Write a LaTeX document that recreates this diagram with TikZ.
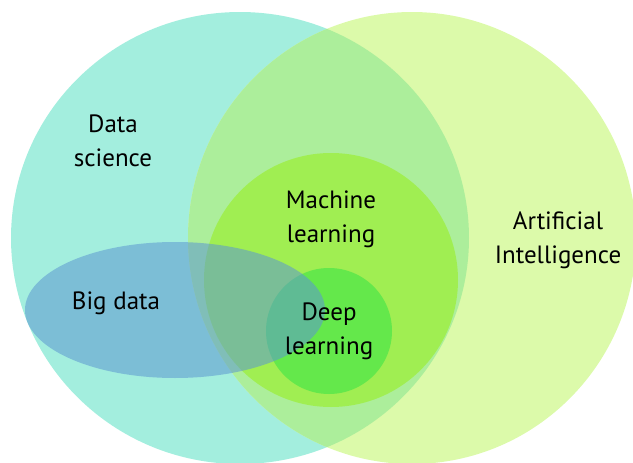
\documentclass[tikz,border=0pt]{standalone}
\usepackage{fontspec}
\setmainfont{PT Sans}
\usetikzlibrary{positioning}
\definecolor{dscol}{RGB}{163,238,222}
\definecolor{aicol}{RGB}{220,250,170}
\definecolor{ovcol}{RGB}{172,238,155}
\definecolor{mlcol}{RGB}{160,238,82}
\definecolor{dlcol}{RGB}{100,232,75}
\definecolor{bdcol}{RGB}{92,151,209}

\begin{document}
\begin{tikzpicture}[x=1pt, y=-1pt,
  lbl/.style={align=center, font=\fontsize{25}{34}\selectfont, text=black}]
  \useasboundingbox (0,0) rectangle (633,463);
  \fill[dscol] (240,238) ellipse [x radius=229, y radius=226];
  \fill[aicol] (412,238) ellipse [x radius=224, y radius=226];
  \begin{scope}
    \clip (240,238) ellipse [x radius=229, y radius=226];
    \fill[ovcol] (412,238) ellipse [x radius=224, y radius=226];
  \end{scope}
  \fill[mlcol] (331,280) circle [radius=127];
  \fill[dlcol] (329,331) circle [radius=63];
  \fill[bdcol, fill opacity=.55] (175,310) ellipse [x radius=150, y radius=68];
  % labels
  \node[lbl] (ds) at (113,141) {Data\\science};
  \node[lbl] (ml) at (331,219) {Machine\\learning};
  \node[lbl] (ai) at (558,240) {Artificial\\Intelligence};
  \node[lbl] (bd) at (116,303) {Big data};
  \node[lbl] (dl) at (329,331) {Deep\\learning};
\end{tikzpicture}
\end{document}
